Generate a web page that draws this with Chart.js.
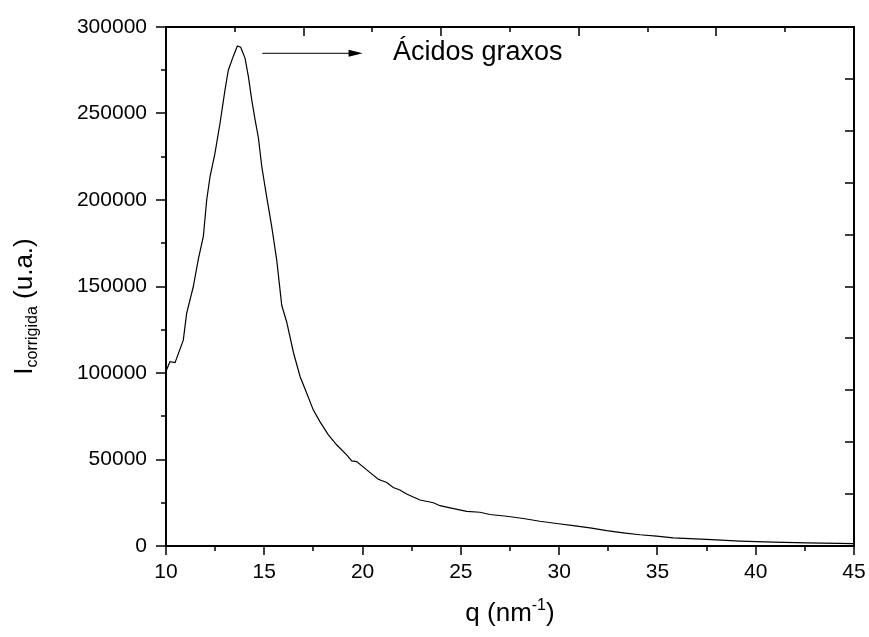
<!DOCTYPE html>
<html>
<head>
<meta charset="utf-8">
<script src="https://cdn.jsdelivr.net/npm/chart.js@4/dist/chart.umd.min.js"></script>
<style>
  html, body { margin: 0; padding: 0; background: #fff; }
  #wrap { width: 869px; height: 637px; }
</style>
</head>
<body>
<div id="wrap"><canvas id="grafico" width="869" height="637"></canvas></div>
<script>
// valores
const qValues = [10.0, 10.2, 10.46, 10.88, 11.05, 11.39, 11.64, 11.9, 12.07, 12.24, 12.49, 12.75, 13.0, 13.17, 13.42, 13.63, 13.8, 14.02, 14.19, 14.36, 14.53, 14.7, 14.87, 15.12, 15.38, 15.63, 15.89, 16.14, 16.48, 16.82, 17.16, 17.49, 17.83, 18.26, 18.68, 19.19, 19.45, 19.7, 20.21, 20.8, 21.23, 21.56, 21.9, 22.24, 22.92, 23.6, 23.94, 24.45, 25.3, 25.97, 26.48, 27.33, 28.18, 29.02, 29.87, 30.72, 31.57, 32.42, 33.26, 34.11, 34.96, 35.8, 37.5, 39.2, 40.9, 42.6, 45.0];
const intensidade = [101000, 106500, 106000, 119000, 134500, 150000, 165500, 179000, 200000, 213500, 227000, 244500, 263500, 275000, 283000, 289000, 288300, 282000, 271500, 258000, 246500, 236000, 219500, 202000, 184500, 165500, 139000, 129500, 112000, 98000, 88300, 78700, 71900, 64200, 58500, 52700, 49200, 48800, 44000, 38600, 36700, 33800, 32400, 30100, 26600, 25000, 23300, 22000, 20000, 19500, 18200, 17200, 15900, 14300, 13000, 11800, 10500, 8900, 7600, 6500, 5700, 4700, 3800, 2800, 2200, 1800, 1400];

const xMajorTicks = [10, 15, 20, 25, 30, 35, 40, 45];
const xMinorTicks = [12.5, 17.5, 22.5, 27.5, 32.5, 37.5, 42.5];
const yMajorTicks = [0, 50000, 100000, 150000, 200000, 250000, 300000];
const yMinorTicks = [25000, 75000, 125000, 175000, 225000, 275000];
const topTicks = [10, 13.5, 17, 20.5, 24, 27.5, 31, 34.5, 38, 41.5, 45];
const rightTicks = [0, 30000, 60000, 90000, 120000, 150000, 180000, 210000, 240000, 270000, 300000];

// anotação (em unidades dos eixos)
const setaInicio = [14.9, 284800];
const setaFim = [20.0, 284800];
const textoAnotacao = "Ácidos graxos";
const textoPos = [21.55, 280700];

const fonte = "'Liberation Sans', Arial, sans-serif";

const eixosPlugin = {
  id: "eixos",
  afterDraw(chart) {
    const ctx = chart.ctx;
    const a = chart.chartArea;
    const xs = chart.scales.x;
    const ys = chart.scales.y;
    ctx.save();
    ctx.strokeStyle = "#000";
    ctx.fillStyle = "#000";

    // moldura
    ctx.lineWidth = 2;
    ctx.strokeRect(a.left, a.top, a.right - a.left, a.bottom - a.top);

    ctx.lineWidth = 1.5;
    ctx.beginPath();
    xMajorTicks.forEach(v => {
      const px = Math.round(xs.getPixelForValue(v));
      ctx.moveTo(px, a.bottom); ctx.lineTo(px, a.bottom + 9);
    });
    xMinorTicks.forEach(v => {
      const px = Math.round(xs.getPixelForValue(v));
      ctx.moveTo(px, a.bottom); ctx.lineTo(px, a.bottom + 5);
    });
    yMajorTicks.forEach(v => {
      const py = Math.round(ys.getPixelForValue(v));
      ctx.moveTo(a.left - 10, py); ctx.lineTo(a.left, py);
    });
    yMinorTicks.forEach(v => {
      const py = Math.round(ys.getPixelForValue(v));
      ctx.moveTo(a.left - 5, py); ctx.lineTo(a.left, py);
    });
    topTicks.forEach((v, i) => {
      const px = Math.round(xs.getPixelForValue(v));
      ctx.moveTo(px, a.top); ctx.lineTo(px, a.top + (i % 2 === 0 ? 9 : 5));
    });
    rightTicks.forEach(v => {
      const py = Math.round(ys.getPixelForValue(v));
      ctx.moveTo(a.right, py); ctx.lineTo(a.right - 9, py);
    });
    ctx.stroke();

    // seta
    const x1 = xs.getPixelForValue(setaInicio[0]);
    const y1 = ys.getPixelForValue(setaInicio[1]);
    const x2 = xs.getPixelForValue(setaFim[0]);
    ctx.lineWidth = 1;
    ctx.beginPath();
    ctx.moveTo(x1, y1); ctx.lineTo(x2 - 12, y1);
    ctx.stroke();
    ctx.beginPath();
    ctx.moveTo(x2, y1); ctx.lineTo(x2 - 14, y1 - 3.5); ctx.lineTo(x2 - 14, y1 + 3.5);
    ctx.closePath();
    ctx.fill();

    ctx.textBaseline = "alphabetic";
    ctx.textAlign = "left";
    ctx.font = "27px " + fonte;
    ctx.fillText(textoAnotacao, xs.getPixelForValue(textoPos[0]), ys.getPixelForValue(textoPos[1]));

    // título eixo x: q (nm^-1)
    const grande = "26px " + fonte;
    const pequeno = "16px " + fonte;
    ctx.font = grande;
    const w1 = ctx.measureText("q (nm").width;
    const w3 = ctx.measureText(")").width;
    ctx.font = pequeno;
    const w2 = ctx.measureText("-1").width;
    let x0 = (a.left + a.right) / 2 - (w1 + w2 + w3) / 2;
    const base = 621;
    ctx.font = grande;
    ctx.fillText("q (nm", x0, base);
    ctx.font = pequeno;
    ctx.fillText("-1", x0 + w1, base - 11);
    ctx.font = grande;
    ctx.fillText(")", x0 + w1 + w2, base);

    // título eixo y: I_corrigida (u.a.)
    ctx.font = grande;
    const t1 = ctx.measureText("I").width;
    const t3 = ctx.measureText(" (u.a.)").width;
    ctx.font = pequeno;
    const t2 = ctx.measureText("corrigida").width;
    const centro = (a.top + a.bottom) / 2 + 20;
    ctx.translate(32, centro + (t1 + t2 + t3) / 2);
    ctx.rotate(-Math.PI / 2);
    ctx.font = grande;
    ctx.fillText("I", 0, 0);
    ctx.font = pequeno;
    ctx.fillText("corrigida", t1, 5);
    ctx.font = grande;
    ctx.fillText(" (u.a.)", t1 + t2, 0);

    ctx.restore();
  }
};

new Chart(document.getElementById("grafico"), {
  type: "scatter",
  data: {
    datasets: [{
      data: qValues.map((q, i) => ({ x: q, y: intensidade[i] })),
      showLine: true,
      borderColor: "#000",
      borderWidth: 1.2,
      pointRadius: 0,
      tension: 0
    }]
  },
  options: {
    responsive: false,
    animation: false,
    devicePixelRatio: 1,
    layout: { padding: { top: 27, right: 15, left: 0, bottom: 0 } },
    plugins: { legend: { display: false }, tooltip: { enabled: false } },
    scales: {
      x: {
        type: "linear",
        min: 10,
        max: 45,
        afterBuildTicks: s => { s.ticks = xMajorTicks.map(v => ({ value: v })); },
        afterFit: s => { s.height = 91; s.paddingLeft = 0; s.paddingRight = 0; },
        grid: { display: false, drawTicks: false },
        border: { display: false },
        ticks: {
          color: "#000",
          font: { family: fonte, size: 21 },
          padding: 14,
          maxRotation: 0,
          autoSkip: false
        }
      },
      y: {
        type: "linear",
        min: 0,
        max: 300000,
        afterBuildTicks: s => { s.ticks = yMajorTicks.map(v => ({ value: v })); },
        afterFit: s => { s.width = 166; s.paddingTop = 0; s.paddingBottom = 0; },
        grid: { display: false, drawTicks: false },
        border: { display: false },
        ticks: {
          color: "#000",
          font: { family: fonte, size: 21 },
          padding: 19,
          callback: v => String(v)
        }
      }
    }
  },
  plugins: [eixosPlugin]
});
</script>
</body>
</html>
